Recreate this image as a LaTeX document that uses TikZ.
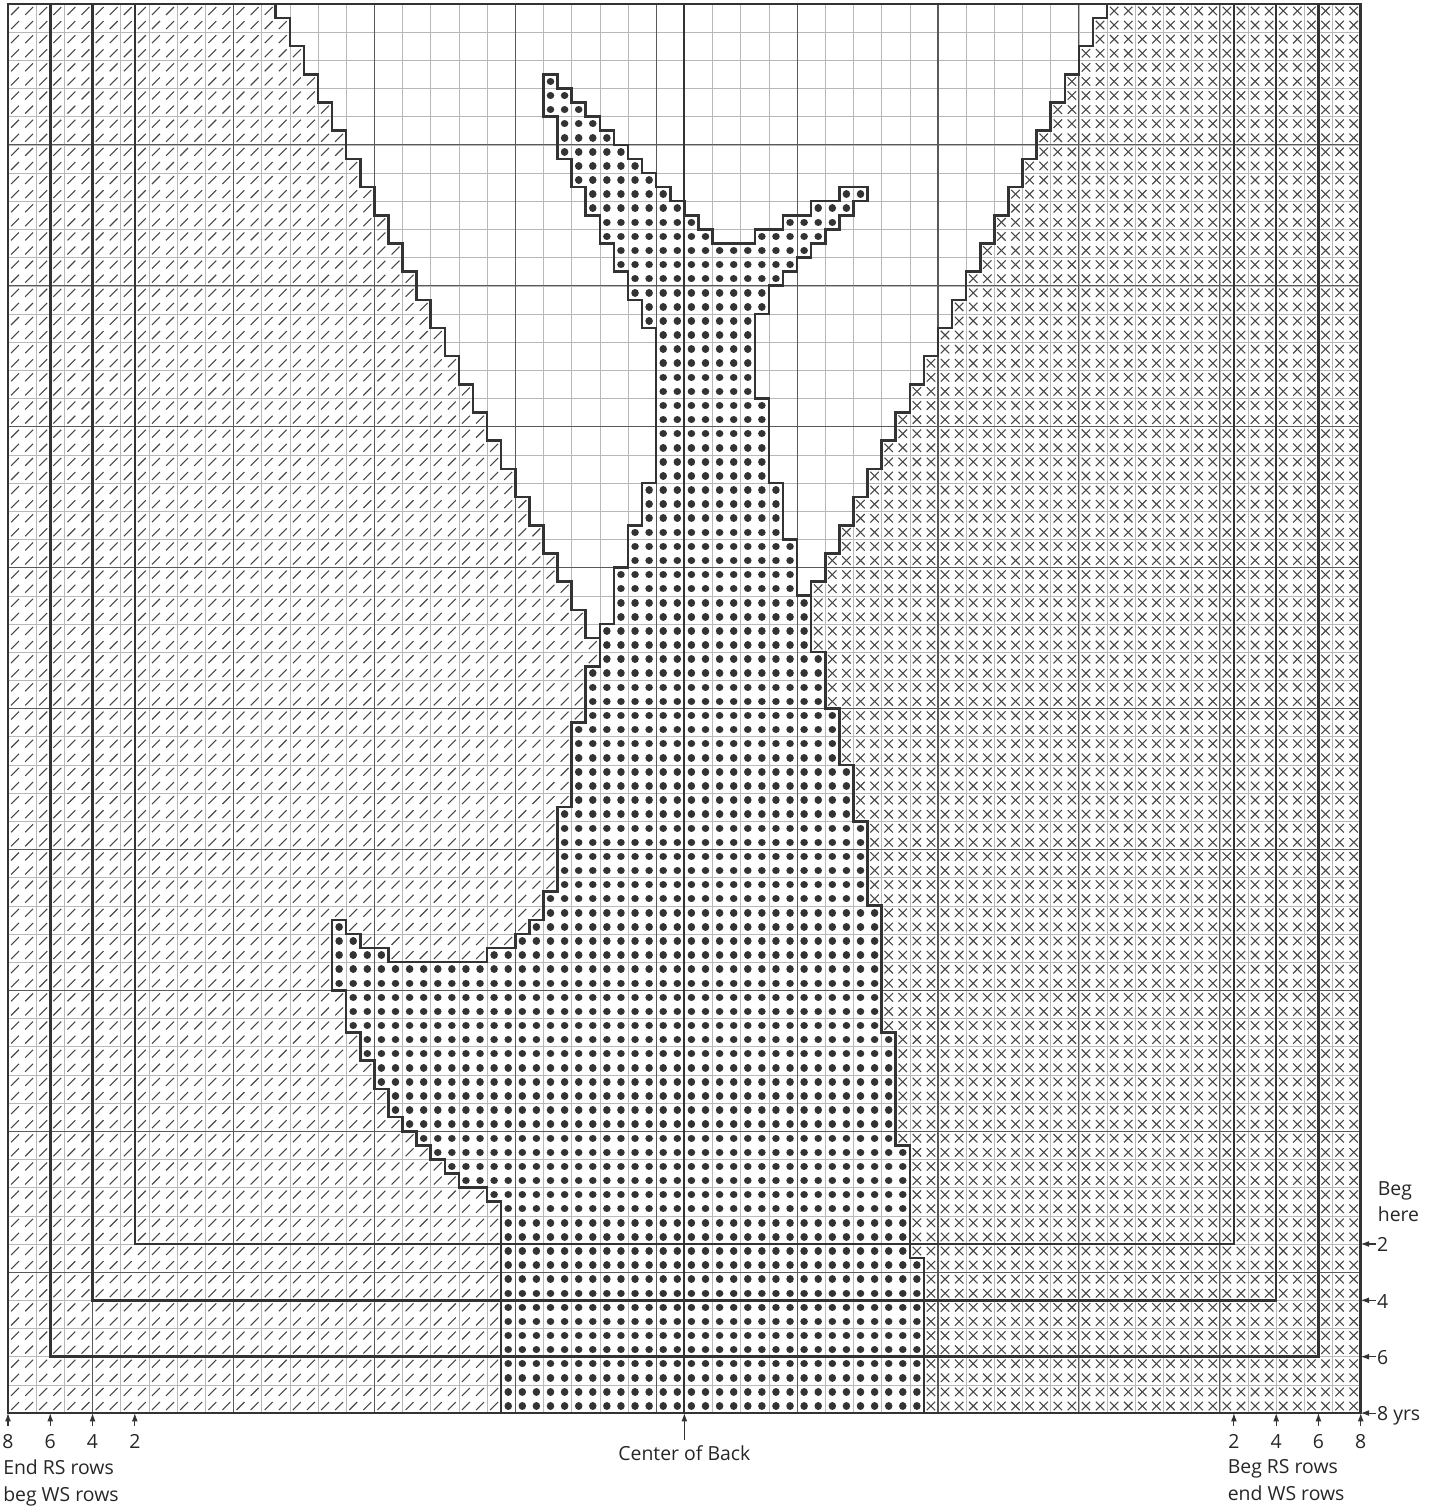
\documentclass[tikz,border=0pt]{standalone}
\usepackage{fontspec}
\setmainfont{Open Sans}
\usetikzlibrary{arrows.meta}

% outline of the dotted figure, in stitches (x) and rows (y)
\newcommand*\figoutline{(38,95) -- (39,95) -- (39,94) -- (40,94) -- (40,93) -- (41,93) -- (41,92) -- (42,92) -- (42,91) -- (43,91) -- (43,90) -- (44,90) -- (44,89) -- (45,89) -- (45,88) -- (46,88) -- (46,87) -- (47,87) -- (47,86) -- (48,86) -- (48,85) -- (49,85) -- (49,84) -- (50,84) -- (50,83) -- (53,83) -- (53,84) -- (55,84) -- (55,85) -- (57,85) -- (57,86) -- (59,86) -- (59,87) -- (61,87) -- (61,86) -- (60,86) -- (60,85) -- (59,85) -- (59,84) -- (58,84) -- (58,83) -- (57,83) -- (57,82) -- (56,82) -- (56,81) -- (55,81) -- (55,80) -- (54,80) -- (54,78) -- (53,78) -- (53,72) -- (54,72) -- (54,66) -- (55,66) -- (55,62) -- (56,62) -- (56,58) -- (57,58) -- (57,54) -- (58,54) -- (58,50) -- (59,50) -- (59,46) -- (60,46) -- (60,42) -- (61,42) -- (61,36) -- (62,36) -- (62,27) -- (63,27) -- (63,19) -- (64,19) -- (64,11) -- (65,11) -- (65,0) -- (35,0) -- (35,15) -- (34,15) -- (34,16) -- (32,16) -- (32,17) -- (31,17) -- (31,18) -- (30,18) -- (30,19) -- (29,19) -- (29,20) -- (28,20) -- (28,21) -- (27,21) -- (27,23) -- (26,23) -- (26,25) -- (25,25) -- (25,27) -- (24,27) -- (24,30) -- (23,30) -- (23,35) -- (24,35) -- (24,34) -- (25,34) -- (25,33) -- (27,33) -- (27,32) -- (34,32) -- (34,33) -- (36,33) -- (36,34) -- (37,34) -- (37,35) -- (38,35) -- (38,37) -- (39,37) -- (39,43) -- (40,43) -- (40,49) -- (41,49) -- (41,53) -- (42,53) -- (42,56) -- (43,56) -- (43,60) -- (44,60) -- (44,63) -- (45,63) -- (45,66) -- (46,66) -- (46,77) -- (45,77) -- (45,79) -- (44,79) -- (44,81) -- (43,81) -- (43,83) -- (42,83) -- (42,85) -- (41,85) -- (41,87) -- (40,87) -- (40,89) -- (39,89) -- (39,92) -- (38,92) -- cycle}

\begin{document}
\begin{tikzpicture}[x=0.5cm, y=0.5cm,
    finegrid/.style={draw=black!28, line width=0.5pt},
    majorline/.style={draw=black!65, line width=1.1pt},
    centerline/.style={draw=black!80, line width=1.9pt},
    bound/.style={draw=black!80, line width=2.6pt},
    slashmark/.style={draw=black!72, line width=1.1pt, dash pattern=on 11.2667pt off 8.8524pt},
    crossmark/.style={draw=black!72, line width=1.1pt, dash pattern=on 12.0715pt off 8.0476pt},
    dotrow/.style={draw=black!80, line width=7.6pt, line cap=round, dash pattern=on 0.01pt off 14.2164pt},
    lbl/.style={font=\fontsize{19.6}{27}\selectfont, text=black!85, inner sep=0pt},
    arr/.style={draw=black!80, line width=1.1pt, -{Latex[length=8.5pt,width=6pt]}}]

\useasboundingbox (-0.567,-6.88) rectangle (101.70,100.28);

% stitch grid
\draw[finegrid] (0,0) grid (96,100);

% left colour
\begin{scope}
  \clip (0,0) -- (0,100) -- (19,100)
    \foreach \k in {1,...,23} { -- ({18+\k},{101-2*\k}) -- ({19+\k},{101-2*\k}) }
    -- (42,53) -- (41,53) -- (41,49) -- (40,49) -- (40,43) -- (39,43) -- (39,37) -- (38,37) -- (38,35) -- (37,35) -- (37,34) -- (36,34) -- (36,33) -- (34,33) -- (34,32) -- (27,32) -- (27,33) -- (25,33) -- (25,34) -- (24,34) -- (24,35) -- (23,35) -- (23,30) -- (24,30) -- (24,27) -- (25,27) -- (25,25) -- (26,25) -- (26,23) -- (27,23) -- (27,21) -- (28,21) -- (28,20) -- (29,20) -- (29,19) -- (30,19) -- (30,18) -- (31,18) -- (31,17) -- (32,17) -- (32,16) -- (34,16) -- (34,15) -- (35,15) -- (35,0) -- cycle;
  \foreach \k in {-42,...,100}
    \draw[slashmark] (-0.78,{\k-0.78}) -- ++(45,45);
\end{scope}

% right colour
\begin{scope}
  \clip (96,0) -- (96,100) -- (78,100)
    \foreach \k in {1,...,21} { -- ({79-\k},{101-2*\k}) -- ({78-\k},{101-2*\k}) }
    -- (57,54) -- (58,54) -- (58,50) -- (59,50) -- (59,46) -- (60,46) -- (60,42) -- (61,42) -- (61,36) -- (62,36) -- (62,27) -- (63,27) -- (63,19) -- (64,19) -- (64,11) -- (65,11) -- (65,0) -- cycle;
  \foreach \k in {-96,...,43}
    \draw[crossmark] (56.2,{\k+56.2}) -- ++(41,41);
  \foreach \m in {56,...,195}
    \draw[crossmark] (56.2,{\m-55.2}) -- ++(41,-41);
\end{scope}

% figure
\begin{scope}
  \clip \figoutline;
  \foreach \r in {0,...,94}
    \draw[dotrow] (23.5,{\r+0.5}) -- (66,{\r+0.5});
\end{scope}

% every 10 sts / rows
\foreach \c in {6,16,...,86}
  \draw[majorline] (\c,0) -- (\c,100);
\foreach \r in {10,20,...,90}
  \draw[majorline] (0,\r) -- (96,\r);
\draw[centerline] (48,0) -- (48,100);

% colour changes
\draw[bound] (19,100) \foreach \k in {1,...,23} { -- ({18+\k},{101-2*\k}) -- ({19+\k},{101-2*\k}) };
\draw[bound] (78,100) \foreach \k in {1,...,21} { -- ({79-\k},{101-2*\k}) -- ({78-\k},{101-2*\k}) } -- (57,58);
\draw[bound] \figoutline;

% sizes
\draw[bound] (3,100) -- (3,4) -- (93,4) -- (93,100);
\draw[bound] (6,100) -- (6,8) -- (90,8) -- (90,100);
\draw[bound] (9,100) -- (9,12) -- (87,12) -- (87,100);
\draw[bound] (0,0) rectangle (96,100);

% markers
\foreach \c/\n in {0/8,3/6,6/4,9/2} {
  \coordinate (sl\n) at (\c,0);
  \coordinate (tl\n) at (\c,-0.9);
  \draw[arr] (tl\n) -- (sl\n);
  \node[lbl, anchor=base] (nl\n) at (\c,-2.5) {\n};
}
\foreach \c/\n in {87/2,90/4,93/6,96/8} {
  \coordinate (sr\n) at (\c,0);
  \coordinate (tr\n) at (\c,-0.9);
  \draw[arr] (tr\n) -- (sr\n);
  \node[lbl, anchor=base] (nr\n) at (\c,-2.5) {\n};
}
\foreach \r/\n in {12/2,8/4,4/6,0/8} {
  \coordinate (rs\n) at (96,\r);
  \coordinate (rt\n) at (97.1,\r);
  \draw[arr] (rt\n) -- (rs\n);
}
\node[lbl, anchor=base west] (row2) at (97.15,11.44) {2};
\node[lbl, anchor=base west] (row4) at (97.15,7.44) {4};
\node[lbl, anchor=base west] (row6) at (97.15,3.44) {6};
\node[lbl, anchor=base west] (row8) at (97.15,-0.56) {8 yrs};
\node[lbl, anchor=base west] (beg) at (97.2,15.46) {Beg};
\node[lbl, anchor=base west] (here) at ([yshift=-27pt]beg.base west) {here};

\coordinate (cb) at (48,0);
\coordinate (cbt) at (48,-1.91);
\draw[arr] (cbt) -- (cb);
\node[lbl, anchor=base] (cback) at (48,-3.40) {Center of Back};

\node[lbl, anchor=base west] (endrs) at (-0.35,-4.33) {End RS rows};
\node[lbl, anchor=base west] (begws) at ([yshift=-27.4pt]endrs.base west) {beg WS rows};
\node[lbl, anchor=base west] (begrs) at (86.55,-4.30) {Beg RS rows};
\node[lbl, anchor=base west] (endws) at ([yshift=-27.4pt]begrs.base west) {end WS rows};
\end{tikzpicture}
\end{document}
